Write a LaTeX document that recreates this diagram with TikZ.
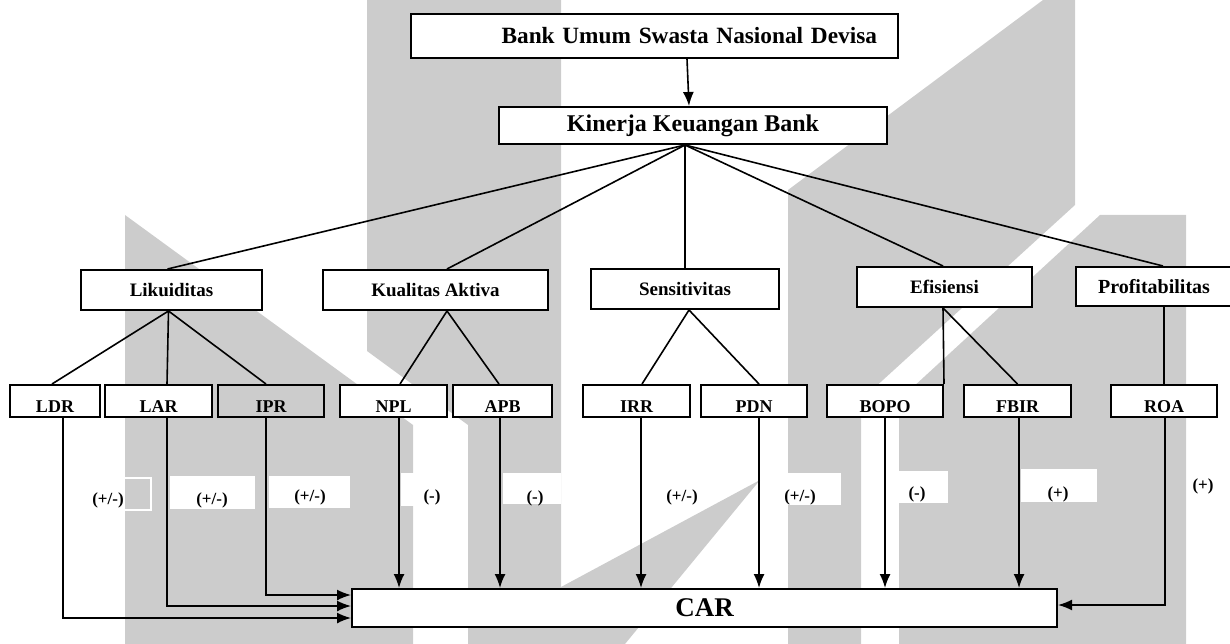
\documentclass[tikz,border=0pt]{standalone}
\usepackage{fontspec}
\setmainfont{Liberation Serif}
\usetikzlibrary{arrows.meta,positioning,calc}
\definecolor{wm}{RGB}{204,204,204}
\begin{document}
\begin{tikzpicture}[x=1pt,y=-1pt,
    box/.style={draw,line width=2pt,fill=white,inner sep=0pt,font=\bfseries\fontsize{19}{22}\selectfont},
    sub/.style={box,minimum height=32pt,text height=22pt,text depth=0pt,font=\bfseries\fontsize{18}{21}\selectfont},
    sign/.style={inner sep=0pt,font=\bfseries\fontsize{17}{20}\selectfont},
    link/.style={line width=1.6pt},
    arr/.style={line width=1.6pt,-{Latex[length=14pt,width=11pt]}}]
\useasboundingbox (0,0) rectangle (1230,644);
% watermark
\fill[wm] (125,215) -- (413,425) -- (413,644) -- (125,644) -- cycle;
\fill[wm] (367,0) -- (561,0) -- (561,644) -- (468,644) -- (468,425) -- (367,351) -- cycle;
\fill[wm] (561,587) -- (760,480) -- (625,644) -- (561,644) -- cycle;
\fill[wm] (788,644) -- (788,190) -- (1043,0) -- (1075,0) -- (1075,205) -- (861,400) -- (861,644) -- cycle;
\fill[wm] (899,644) -- (899,400) -- (1100,215) -- (1186,215) -- (1186,644) -- cycle;
\fill[white] (170,476) rectangle (255,509);
\fill[white] (269,476) rectangle (350,508);
\fill[white] (401,473) rectangle (445,506);
\fill[white] (503,473) rectangle (561,504);
\fill[white] (762,473) rectangle (841,505);
\fill[white] (888,471) rectangle (948,503);
\fill[white] (1021,469) rectangle (1097,502);
\draw[white,line width=1.5pt] (70,478) rectangle (151,510);

\node[box,inner xsep=21pt,text width=445pt,align=right,minimum height=44pt,font=\bfseries\fontsize{23.3}{27}\selectfont] (bank) at (654.5,36) {Bank Umum Swasta Nasional Devisa};
\node[box,minimum width=388pt,minimum height=37pt,font=\bfseries\fontsize{24}{28}\selectfont] (kin) at (693,125.5) {Kinerja Keuangan Bank};
\draw[arr] ([xshift=-6]kin.north |- bank.south) -- ([xshift=-4]kin.north);

\node[box,minimum width=181pt,minimum height=40pt] (liku) at (171.5,290) {Likuiditas};
\node[box,minimum width=225pt,minimum height=40pt] (kual) at (435.5,290) {Kualitas Aktiva};
\node[box,minimum width=188pt,minimum height=40pt] (sens) at (685,289) {Sensitivitas};
\node[box,minimum width=175pt,minimum height=40pt] (efis) at (944.5,287) {Efisiensi};
\node[box,minimum width=156pt,minimum height=39pt,font=\bfseries\fontsize{20}{23}\selectfont] (prof) at (1154,286.5) {Profitabilitas};

\coordinate (fan) at ([xshift=-8]kin.south);
\draw[link] (fan) -- ([xshift=-4]liku.north);
\draw[link] (fan) -- ([xshift=11.5]kual.north);
\draw[link] (fan) -- (sens.north);
\draw[link] (fan) -- ([xshift=-1.5]efis.north);
\draw[link] (fan) -- ([xshift=9]prof.north);

\node[sub,minimum width=90pt] (ldr) at (55,401) {LDR};
\node[sub,minimum width=107pt] (lar) at (158.5,401) {LAR};
\node[sub,minimum width=106pt,fill=none] (ipr) at (271,401) {IPR};
\node[sub,minimum width=107pt] (npl) at (393.5,401) {NPL};
\node[sub,minimum width=99pt] (apb) at (502.5,401) {APB};
\node[sub,minimum width=107pt] (irr) at (636.5,401) {IRR};
\node[sub,minimum width=106pt] (pdn) at (754,401) {PDN};
\node[sub,minimum width=116pt] (bopo) at (885,401) {BOPO};
\node[sub,minimum width=107pt] (fbir) at (1017.5,401) {FBIR};
\node[sub,minimum width=106pt] (roa) at (1164,401) {ROA};

\draw[link] ([xshift=-3]ldr.north) -- ([xshift=-3]liku.south) -- ([xshift=8.5]lar.north);
\draw[link] ([xshift=-3]liku.south) -- ([xshift=-5]ipr.north);
\draw[link] ([xshift=6.5]npl.north) -- ([xshift=11.5]kual.south) -- ([xshift=-3.5]apb.north);
\draw[link] ([xshift=5.5]irr.north) -- ([xshift=4]sens.south) -- ([xshift=5]pdn.north);
\draw[link] (bopo.north east) -- ([xshift=-1.5]efis.south) -- (fbir.north);
\draw[link] ([xshift=10]prof.south) -- (roa.north);

\node[box,minimum width=705pt,minimum height=38pt,font=\bfseries\fontsize{27}{31}\selectfont] (car) at (704.5,608) {CAR};

\draw[arr] ([xshift=8]ldr.south) |- ([yshift=-10]car.west);
\draw[arr] ([xshift=8.5]lar.south) |- ([yshift=2]car.west);
\draw[arr] ([xshift=-5]ipr.south) |- ([yshift=13]car.west);
\draw[arr] ([xshift=5.5]npl.south) -- ([xshift=5.5]npl.south |- car.north);
\draw[arr] ([xshift=-2.5]apb.south) -- ([xshift=-2.5]apb.south |- car.north);
\draw[arr] ([xshift=4.5]irr.south) -- ([xshift=4.5]irr.south |- car.north);
\draw[arr] ([xshift=5]pdn.south) -- ([xshift=5]pdn.south |- car.north);
\draw[arr] (bopo.south) -- (bopo.south |- car.north);
\draw[arr] ([xshift=1.5]fbir.south) -- ([xshift=1.5]fbir.south |- car.north);
\draw[arr] ([xshift=1]roa.south) |- ([yshift=3]car.east);

\node[sign] (s1) at (108,500) {(+/-)};
\node[sign] (s2) at (212,500) {(+/-)};
\node[sign] (s3) at (310,497) {(+/-)};
\node[sign] (s4) at (432,497) {(-)};
\node[sign] (s5) at (535,498) {(-)};
\node[sign] (s6) at (682,497) {(+/-)};
\node[sign] (s7) at (800,497) {(+/-)};
\node[sign] (s8) at (917,494) {(-)};
\node[sign] (s9) at (1058,494) {(+)};
\node[sign] (s10) at (1203,486) {(+)};
\end{tikzpicture}
\end{document}
